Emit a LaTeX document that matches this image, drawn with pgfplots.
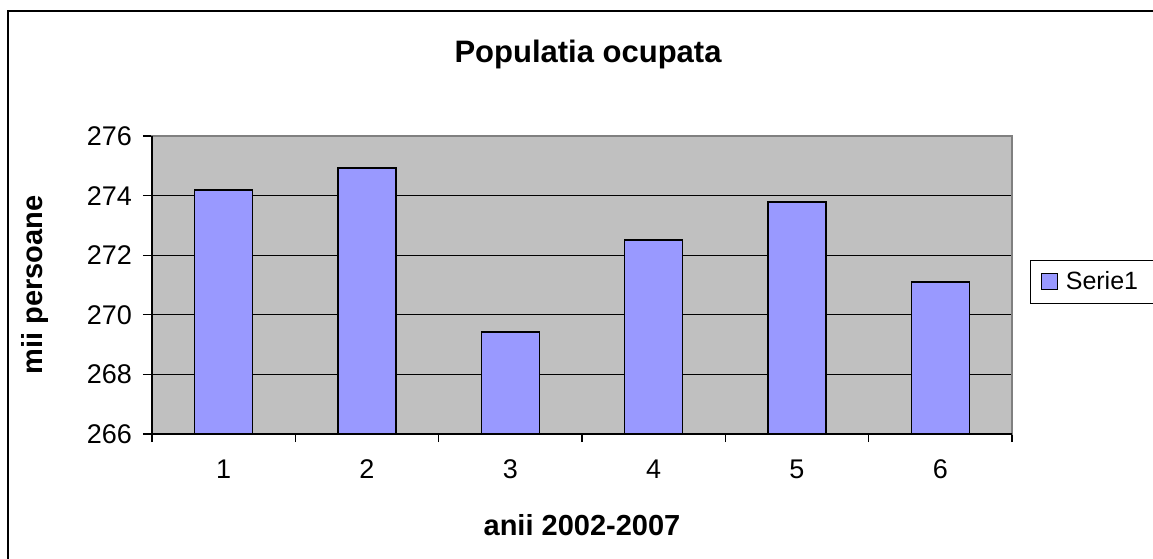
\documentclass[border=0pt]{standalone}
\usepackage{fontspec}
\setmainfont{Liberation Sans}
\usepackage{pgfplots}
\pgfplotsset{compat=1.18}
\definecolor{plotbg}{HTML}{C0C0C0}
\definecolor{barfill}{HTML}{9999FF}
\definecolor{bordergray}{HTML}{808080}

\begin{document}
\begin{tikzpicture}[x=1pt,y=1pt]
% page = 1153x558 px at 0.5pt per px, axis origin at px (152,434)
\useasboundingbox (-76,-62) rectangle (500.5,217);
\draw[line width=0.7pt] (-72,-80) -- (-72,211.5) -- (520,211.5);
\begin{axis}[
    at={(0,0)}, anchor=south west,
    scale only axis,
    width=430pt, height=149pt,
    xmin=0.5, xmax=6.5,
    ymin=266, ymax=276,
    xtick={1,...,6},
    minor xtick={0.5,1.5,...,6.5},
    ytick={266,268,...,276},
    major x tick style={draw=none},
    minor tick length=4pt,
    major tick length=4.5pt,
    tick align=outside,
    xtick pos=bottom, ytick pos=left,
    tick style={black, line width=0.6pt},
    ymajorgrids,
    grid style={black, line width=0.6pt},
    axis line style={bordergray, line width=0.6pt},
    axis background/.style={fill=plotbg},
    tick label style={font=\fontsize{13.5}{16}\selectfont},
    /pgf/number format/assume math mode=true,
    yticklabel style={xshift=-2pt},
    xticklabel style={yshift=-5pt},
    xlabel={\bfseries anii 2002-2007},
    xlabel style={font=\fontsize{14.5}{17}\selectfont, at={(rel axis cs:0.5,-0.305)}, anchor=center},
    ylabel={\bfseries mii persoane},
    ylabel style={font=\fontsize{14.5}{17}\selectfont, at={(rel axis cs:-0.136,0.5)}, anchor=center, rotate=0},
    legend style={at={(rel axis cs:1.021,0.585)}, anchor=north west,
        draw=black, line width=0.6pt, font=\fontsize{12.5}{15}\selectfont,
        inner xsep=5pt, inner ysep=3.5pt},
    legend cell align=left,
    ybar, bar width=29pt,
    after end axis/.code={
        \draw[black, line width=0.8pt] (rel axis cs:0,1) -- (rel axis cs:0,0) -- (rel axis cs:1,0);
        \node[font=\fontsize{15.5}{18}\selectfont\bfseries, anchor=center] at (rel axis cs:0.507,1.272) {Populatia ocupata};
    },
]
\addplot[fill=barfill, draw=black, line width=0.7pt,
    legend image code/.code={\draw[fill=barfill, draw=black, line width=0.6pt] (0pt,-4pt) rectangle (8pt,4pt);}]
    coordinates {
    (1,274.19) (2,274.93) (3,269.42) (4,272.51) (5,273.79) (6,271.10)
};
\addlegendentry{\hspace*{2pt}Serie1\hspace*{10pt}}
\end{axis}
\end{tikzpicture}
\end{document}
